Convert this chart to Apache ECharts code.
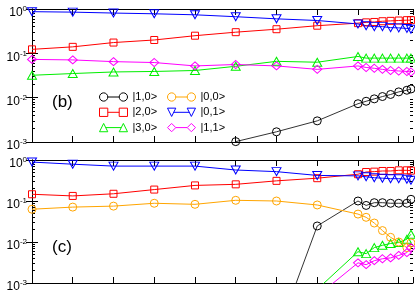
<!DOCTYPE html>
<html><head><meta charset="utf-8">
<script src="https://cdn.jsdelivr.net/npm/echarts@6/dist/echarts.min.js"></script>
<style>html,body{margin:0;padding:0;background:#fff}#c{width:415px;height:292px}</style>
</head><body><div id="c"></div>
<script>
// shared x positions (no x labels in the figure)
const xValues = [0,1,2,3,4,5,6,7,8,8.2,8.4,8.6,8.8,9.0,9.2,9.3];
const seriesNames = ['|1,0>','|2,0>','|3,0>','|0,0>','|0,1>','|1,1>'];
const yTickLabels = ['10^-3','10^-2','10^-1','10^0'];
const minorTickValues = [0.002,0.003,0.004,0.005,0.006,0.007,0.008,0.009,
  0.02,0.03,0.04,0.05,0.06,0.07,0.08,0.09,0.2,0.3,0.4,0.5,0.6,0.7,0.8,0.9];

// panel (b)
const b_10 = [null,null,null,null,null,0.00102,0.0017,0.003,0.0073,0.0083,0.0094,0.0106,0.0118,0.0135,0.0147,0.0157];
const b_20 = [0.123,0.14,0.175,0.20,0.25,0.30,0.35,0.42,0.48,0.50,0.51,0.53,0.54,0.55,0.56,0.56];
const b_30 = [0.032,0.035,0.038,0.039,0.041,0.051,0.066,0.063,0.085,0.078,0.078,0.078,0.078,0.078,0.078,0.078];
const b_01 = [0.87,0.85,0.81,0.78,0.74,0.67,0.60,0.55,0.46,0.42,0.40,0.40,0.38,0.375,0.365,0.35];
const b_11 = [0.073,0.071,0.065,0.062,0.052,0.056,0.052,0.0435,0.052,0.048,0.046,0.0435,0.041,0.040,0.039,0.038];

// panel (c)
const c_10 = [null,null,null,null,null,null,0.00005,0.0246,0.10,0.078,0.091,0.091,0.088,0.088,0.088,0.11];
const c_20 = [0.146,0.133,0.15,0.19,0.24,0.255,0.31,0.36,0.45,0.51,0.52,0.54,0.54,0.56,0.56,0.55];
const c_30 = [null,null,null,null,null,null,null,0.0007,0.0058,0.0052,0.0073,0.0083,0.0092,0.0097,0.0117,0.0155];
const c_00 = [0.063,0.071,0.075,0.088,0.083,0.104,0.10,0.08,0.048,0.040,0.029,0.019,0.013,0.010,0.0073,0.0095];
const c_01 = [0.89,0.79,0.71,0.71,0.71,0.57,0.52,0.42,0.41,0.39,0.37,0.36,0.35,0.35,0.34,0.32];
const c_11 = [null,null,null,null,null,null,null,0.00048,0.0031,0.0028,0.0035,0.0039,0.0041,0.0047,0.0055,0.0073];

const FONT = 'Liberation Sans, Arial, Helvetica, sans-serif';
const styles = {
  '|1,0>': {color:'#000000', line:'#333333', symbol:'circle', size:8, rot:0},
  '|2,0>': {color:'#ff0000', line:'#ff0000', symbol:'rect', size:7, rot:0},
  '|3,0>': {color:'#00ee00', line:'#00ee00', symbol:'triangle', size:[9,8], rot:0},
  '|0,0>': {color:'#ffa500', line:'#ffa500', symbol:'circle', size:8, rot:0},
  '|0,1>': {color:'#0000ff', line:'#0000ff', symbol:'triangle', size:[9,8], rot:180},
  '|1,1>': {color:'#ff00ff', line:'#ff00ff', symbol:'diamond', size:[9,8], rot:0}
};

function pts(arr){ return xValues.map((x,i)=>[x,arr[i]]).filter(p=>p[1]!=null); }
function mk(name, arr, g){
  const s = styles[name];
  return {
    type:'line', name:name, xAxisIndex:g*2, yAxisIndex:g*4, data:pts(arr),
    symbol:s.symbol, symbolSize:s.size, symbolRotate:s.rot, clip:true,
    itemStyle:{color:'rgba(0,0,0,0)', borderColor:s.color, borderWidth:1},
    lineStyle:{color:s.line, width:1}, emphasis:{disabled:true}, z:2
  };
}

const gridDefs = [{left:32, right:2, top:9, height:133},{left:32, right:2, top:160, height:123}];
const xAxes = [], yAxes = [];
gridDefs.forEach((g,gi)=>{
  ['bottom','top'].forEach(pos=>{
    xAxes.push({type:'value', gridIndex:gi, position:pos, min:0, max:9.35, interval:1,
      axisLine:{show:true, onZero:false, lineStyle:{color:'#000', width:1}},
      axisTick:{show:true, inside:true, length:6, lineStyle:{color:'#000'}},
      axisLabel:{show:false}, splitLine:{show:false}});
  });
  ['left','right'].forEach(pos=>{
    yAxes.push({type:'log', logBase:10, gridIndex:gi, position:pos, min:0.001, max:1,
      axisLine:{show:true, lineStyle:{color:'#000', width:1}},
      axisTick:{show:true, inside:true, length:6, lineStyle:{color:'#000'}},
      splitLine:{show:false}, minorTick:{show:false},
      axisLabel:{show:pos==='left', margin:5, padding:[8,0,0,0], showMinLabel:true, showMaxLabel:true,
        formatter:function(v){ const e=Math.round(Math.log10(v)); const lbl=yTickLabels[e+3]; const parts=lbl.split('^'); return '{a|'+parts[0]+'}{s|'+parts[1]+'}'; },
        rich:{a:{fontSize:12, lineHeight:16, fontFamily:FONT, color:'#000'}, s:{fontSize:8, lineHeight:8, verticalAlign:'top', fontFamily:FONT, color:'#000'}}}
    });
  });
  ['left','right'].forEach(pos=>{
    yAxes.push({type:'log', logBase:10, gridIndex:gi, position:pos, min:0.001, max:1,
      axisLine:{show:false},
      axisTick:{show:true, inside:true, length:3, customValues:minorTickValues, lineStyle:{color:'#000'}},
      axisLabel:{show:false}, splitLine:{show:false}});
  });
});

const iconPaths = {
  circle: 'path://M8.5,4.5A4,4,0,1,1,0.5,4.5A4,4,0,1,1,8.5,4.5Z M8.5,4.5L19.5,4.5 M27.5,4.5A4,4,0,1,1,19.5,4.5A4,4,0,1,1,27.5,4.5Z',
  rect: 'path://M0.5,0.5L8.5,0.5L8.5,8.5L0.5,8.5Z M8.5,4.5L19.5,4.5 M19.5,0.5L27.5,0.5L27.5,8.5L19.5,8.5Z',
  up: 'path://M4.5,0.5L8.5,8.5L0.5,8.5Z M6.5,4.5L21.5,4.5 M23.5,0.5L27.5,8.5L19.5,8.5Z',
  down: 'path://M0.5,0.5L8.5,0.5L4.5,8.5Z M6.5,4.5L21.5,4.5 M19.5,0.5L27.5,0.5L23.5,8.5Z',
  diamond: 'path://M4.5,0.5L8.5,4.5L4.5,8.5L0.5,4.5Z M8.5,4.5L19.5,4.5 M23.5,0.5L27.5,4.5L23.5,8.5L19.5,4.5Z'
};
function legItem(name, icon){
  const s = styles[name];
  return {name:name, icon:iconPaths[icon], itemStyle:{color:'rgba(0,0,0,0)', borderColor:s.color, borderWidth:1}};
}
const legendCommon = {orient:'vertical', itemWidth:28, itemHeight:9, itemGap:3.3, padding:0, selectedMode:false,
  textStyle:{fontSize:11, lineHeight:12, fontFamily:FONT, color:'#000'}};

const option = {
  animation:false,
  backgroundColor:'#fff',
  grid: gridDefs.map(g=>Object.assign({outerBoundsMode:'none', containLabel:false}, g)),
  xAxis: xAxes, yAxis: yAxes,
  title:[
    {text:'(b)', left:52, top:94, padding:0, textStyle:{fontSize:17, fontWeight:'normal', fontFamily:FONT, color:'#000'}},
    {text:'(c)', left:52, top:239, padding:0, textStyle:{fontSize:17, fontWeight:'normal', fontFamily:FONT, color:'#000'}}
  ],
  legend:[
    Object.assign({left:99, top:91, data:[legItem('|1,0>','circle'),legItem('|2,0>','rect'),legItem('|3,0>','up')]}, legendCommon),
    Object.assign({left:167, top:91, data:[legItem('|0,0>','circle'),legItem('|0,1>','down'),legItem('|1,1>','diamond')]}, legendCommon)
  ],
  series:[
    mk('|1,0>', b_10, 0), mk('|2,0>', b_20, 0), mk('|3,0>', b_30, 0), mk('|0,1>', b_01, 0), mk('|1,1>', b_11, 0),
    mk('|1,0>', c_10, 1), mk('|2,0>', c_20, 1), mk('|3,0>', c_30, 1), mk('|0,0>', c_00, 1), mk('|0,1>', c_01, 1), mk('|1,1>', c_11, 1)
  ]
};
const chart = echarts.init(document.getElementById('c'), null, {renderer:'canvas'});
chart.setOption(option);
</script>
</body></html>
